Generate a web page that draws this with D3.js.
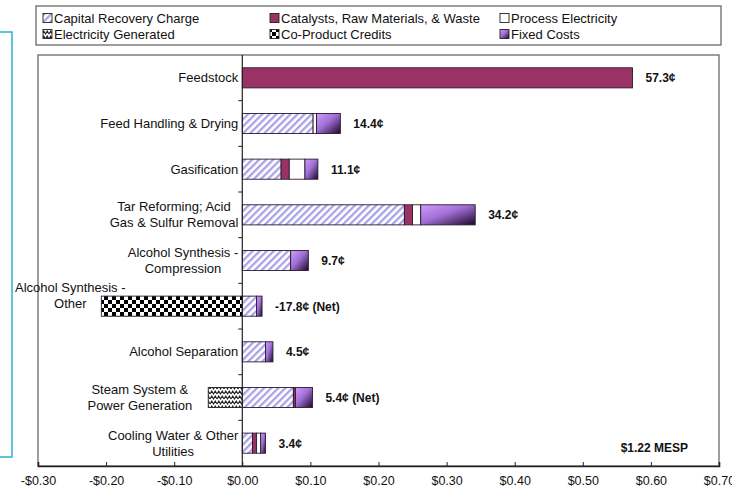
<!DOCTYPE html>
<html>
  <head>
    <script src="https://d3js.org/d3.v7.min.js"></script>
    <style>
      body { margin: 0; background: #fff; }
      text { font-family: "Liberation Sans", Arial, sans-serif; fill: #111; }
    </style>
  </head>
  <body>
    <script>

      // categories, top to bottom (\n = line break in the axis label)
      const categories = [
        "Feedstock",
        "Feed Handling & Drying",
        "Gasification",
        "Tar Reforming; Acid\nGas & Sulfur Removal",
        "Alcohol Synthesis -\nCompression",
        "Alcohol Synthesis -\nOther",
        "Alcohol Separation",
        "Steam System &\nPower Generation",
        "Cooling Water & Other\nUtilities"
      ];

      // $/gal contributions
      const capital      = [0,     0.104, 0.057, 0.238, 0.071, 0.021, 0.034, 0.075, 0.015];
      const catalysts    = [0.573, 0,     0.012, 0.012, 0,     0,     0,     0.003, 0.006];
      const processElec  = [0,     0.005, 0.023, 0.012, 0,     0,     0,     0,     0.006];
      const fixedCosts   = [0,     0.035, 0.019, 0.080, 0.026, 0.008, 0.011, 0.025, 0.007];
      const elecGenerated = [0,    0,     0,     0,     0,     0,     0,    -0.050, 0];
      const coProduct    = [0,     0,     0,     0,     0,    -0.207, 0,     0,     0];

      const valueLabels = ["57.3¢", "14.4¢", "11.1¢", "34.2¢", "9.7¢", "-17.8¢ (Net)", "4.5¢", "5.4¢ (Net)", "3.4¢"];
      const xTicks = [-0.3, -0.2, -0.1, 0, 0.1, 0.2, 0.3, 0.4, 0.5, 0.6, 0.7];
      const totalLabel = "$1.22 MESP";

      const width = 732;
      const height = 498;
      const plot = {left: 38, right: 719, top: 55, bottom: 466};

      const svg = d3.select("body")
        .append("svg")
        .attr("width", width)
        .attr("height", height);

      // patterns / gradient
      const defs = svg.append("defs");

      const hatch = defs.append("pattern")
        .attr("id", "hatch")
        .attr("patternUnits", "userSpaceOnUse")
        .attr("width", 5).attr("height", 5)
        .attr("patternTransform", "rotate(45)");
      hatch.append("rect").attr("width", 5).attr("height", 5).attr("fill", "#fff");
      hatch.append("rect").attr("width", 2.3).attr("height", 5).attr("fill", "#aaa2e6");

      const checker = defs.append("pattern")
        .attr("id", "checker")
        .attr("patternUnits", "userSpaceOnUse")
        .attr("width", 8).attr("height", 8);
      checker.append("rect").attr("width", 8).attr("height", 8).attr("fill", "#fff");
      checker.append("rect").attr("width", 4).attr("height", 4).attr("fill", "#000");
      checker.append("rect").attr("x", 4).attr("y", 4).attr("width", 4).attr("height", 4).attr("fill", "#000");

      const wave = defs.append("pattern")
        .attr("id", "wave")
        .attr("patternUnits", "userSpaceOnUse")
        .attr("width", 7).attr("height", 5);
      wave.append("rect").attr("width", 7).attr("height", 5).attr("fill", "#fff");
      wave.append("path")
        .attr("d", "M0,4 L1.75,1 L3.5,4 L5.25,1 L7,4")
        .attr("fill", "none").attr("stroke", "#222").attr("stroke-width", 1.1);

      const grad = defs.append("linearGradient")
        .attr("id", "fixedGrad")
        .attr("x1", 0).attr("y1", 0).attr("x2", 1).attr("y2", 1);
      grad.append("stop").attr("offset", "0%").attr("stop-color", "#cf9cff");
      grad.append("stop").attr("offset", "45%").attr("stop-color", "#a170d6");
      grad.append("stop").attr("offset", "100%").attr("stop-color", "#1c0628");

      const series = [
        {name: "Capital Recovery Charge", values: capital, fill: "url(#hatch)"},
        {name: "Catalysts, Raw Materials, & Waste", values: catalysts, fill: "#993366"},
        {name: "Process Electricity", values: processElec, fill: "#ffffff"},
        {name: "Fixed Costs", values: fixedCosts, fill: "url(#fixedGrad)"},
        {name: "Electricity Generated", values: elecGenerated, fill: "url(#wave)"},
        {name: "Co-Product Credits", values: coProduct, fill: "url(#checker)"}
      ];

      const legendRows = [
        ["Capital Recovery Charge", "Catalysts, Raw Materials, & Waste", "Process Electricity"],
        ["Electricity Generated", "Co-Product Credits", "Fixed Costs"]
      ];

      // stray cyan frame at the left edge
      svg.append("rect")
        .attr("x", -3).attr("y", 32)
        .attr("width", 15).attr("height", 425)
        .attr("fill", "none")
        .attr("stroke", "#2ab0d8")
        .attr("stroke-width", 1.5);

      // scales
      const x = d3.scaleLinear()
        .domain([-0.3, 0.7])
        .range([plot.left, plot.right]);

      const y = d3.scaleBand()
        .domain(categories)
        .range([plot.top, plot.bottom])
        .paddingInner(0.56)
        .paddingOuter(0.28);

      // plot frame
      svg.append("rect")
        .attr("x", plot.left).attr("y", plot.top)
        .attr("width", plot.right - plot.left)
        .attr("height", plot.bottom - plot.top)
        .attr("fill", "#fff")
        .attr("stroke", "#6a6a6a")
        .attr("stroke-width", 1.3);

      // stacked segments
      const segments = [];
      const posEnd = categories.map(() => 0);
      const negEnd = categories.map(() => 0);
      series.forEach(s => {
        s.values.forEach((v, i) => {
          if (v === 0) return;
          if (v > 0) {
            segments.push({cat: categories[i], x0: posEnd[i], x1: posEnd[i] + v, fill: s.fill});
            posEnd[i] += v;
          } else {
            segments.push({cat: categories[i], x0: negEnd[i] + v, x1: negEnd[i], fill: s.fill});
            negEnd[i] += v;
          }
        });
      });

      svg.append("g")
        .selectAll("rect")
        .data(segments)
        .join("rect")
        .attr("x", d => x(d.x0))
        .attr("y", d => y(d.cat))
        .attr("width", d => x(d.x1) - x(d.x0))
        .attr("height", y.bandwidth())
        .attr("fill", d => d.fill)
        .attr("stroke", "#2a1a30")
        .attr("stroke-width", 0.9);

      // vertical axis at zero with category ticks
      const gap = (y.step() - y.bandwidth()) / 2;
      svg.append("line")
        .attr("x1", x(0)).attr("x2", x(0))
        .attr("y1", plot.top).attr("y2", plot.bottom)
        .attr("stroke", "#222").attr("stroke-width", 1.2);
      svg.append("g")
        .selectAll("line")
        .data(categories.slice(1))
        .join("line")
        .attr("x1", x(0) - 4).attr("x2", x(0))
        .attr("y1", d => y(d) - gap)
        .attr("y2", d => y(d) - gap)
        .attr("stroke", "#222");

      // bottom axis, ticks point inward
      const xAxis = svg.append("g")
        .attr("transform", `translate(0,${plot.bottom})`)
        .call(d3.axisBottom(x)
          .tickValues(xTicks)
          .tickSize(-4)
          .tickPadding(10)
          .tickFormat(d => (d < 0 ? "-$" : "$") + Math.abs(d).toFixed(2)));
      xAxis.select(".domain").attr("stroke", "#222").attr("stroke-width", 1.6);
      xAxis.selectAll(".tick line").attr("stroke", "#222");
      xAxis.selectAll("text")
        .style("font-family", "'Liberation Sans', Arial, sans-serif")
        .attr("font-size", 12.5)
        .attr("fill", "#111");

      // category labels, to the left of each bar; a label that cannot fit
      // left of its bar is pushed right and lifted above the bar
      categories.forEach((c, i) => {
        const lines = c.split("\n");
        let right = x(negEnd[i]) - (negEnd[i] < 0 ? 16 : 4);
        const cy = y(c) + y.bandwidth() / 2;
        const t = svg.append("text")
          .attr("font-size", 13)
          .attr("text-anchor", "end");
        const spans = lines.map(ln => t.append("tspan")
          .attr("dy", "0.35em")
          .text(ln));
        const maxW = d3.max(spans, s => s.node().getComputedTextLength());
        let lift = 0;
        if (right - maxW < 15) {
          right = 15 + maxW;
          lift = 11;
        }
        spans.forEach((s, k) => s.attr("y", cy - lift + (k - (lines.length - 1) / 2) * 16));
        if (lines.length > 1) {
          t.attr("text-anchor", "middle");
          spans.forEach(s => s.attr("x", right - maxW / 2));
        } else {
          spans.forEach(s => s.attr("x", right));
        }
      });

      // value labels
      svg.append("g")
        .selectAll("text")
        .data(categories)
        .join("text")
        .attr("x", (d, i) => x(posEnd[i]) + 13)
        .attr("y", d => y(d) + y.bandwidth() / 2)
        .attr("dy", "0.38em")
        .attr("font-size", 12)
        .attr("font-weight", "bold")
        .text((d, i) => valueLabels[i]);

      svg.append("text")
        .attr("x", 688)
        .attr("y", 448)
        .attr("dy", "0.35em")
        .attr("text-anchor", "end")
        .attr("font-size", 12)
        .attr("font-weight", "bold")
        .text(totalLabel);

      // legend
      svg.append("rect")
        .attr("x", 36).attr("y", 6)
        .attr("width", 685).attr("height", 39)
        .attr("fill", "#fff")
        .attr("stroke", "#6a6a6a")
        .attr("stroke-width", 1.3);

      const colX = [43, 270, 500];
      const rowY = [18, 34];
      legendRows.forEach((row, r) => {
        row.forEach((name, c) => {
          const s = series.find(d => d.name === name);
          svg.append("rect")
            .attr("x", colX[c]).attr("y", rowY[r] - 4.5)
            .attr("width", 9).attr("height", 9)
            .attr("fill", s.fill)
            .attr("stroke", "#222")
            .attr("stroke-width", 0.9);
          svg.append("text")
            .attr("x", colX[c] + 11)
            .attr("y", rowY[r])
            .attr("dy", "0.35em")
            .attr("font-size", 13)
            .text(name);
        });
      });

    </script>
  </body>
</html>
